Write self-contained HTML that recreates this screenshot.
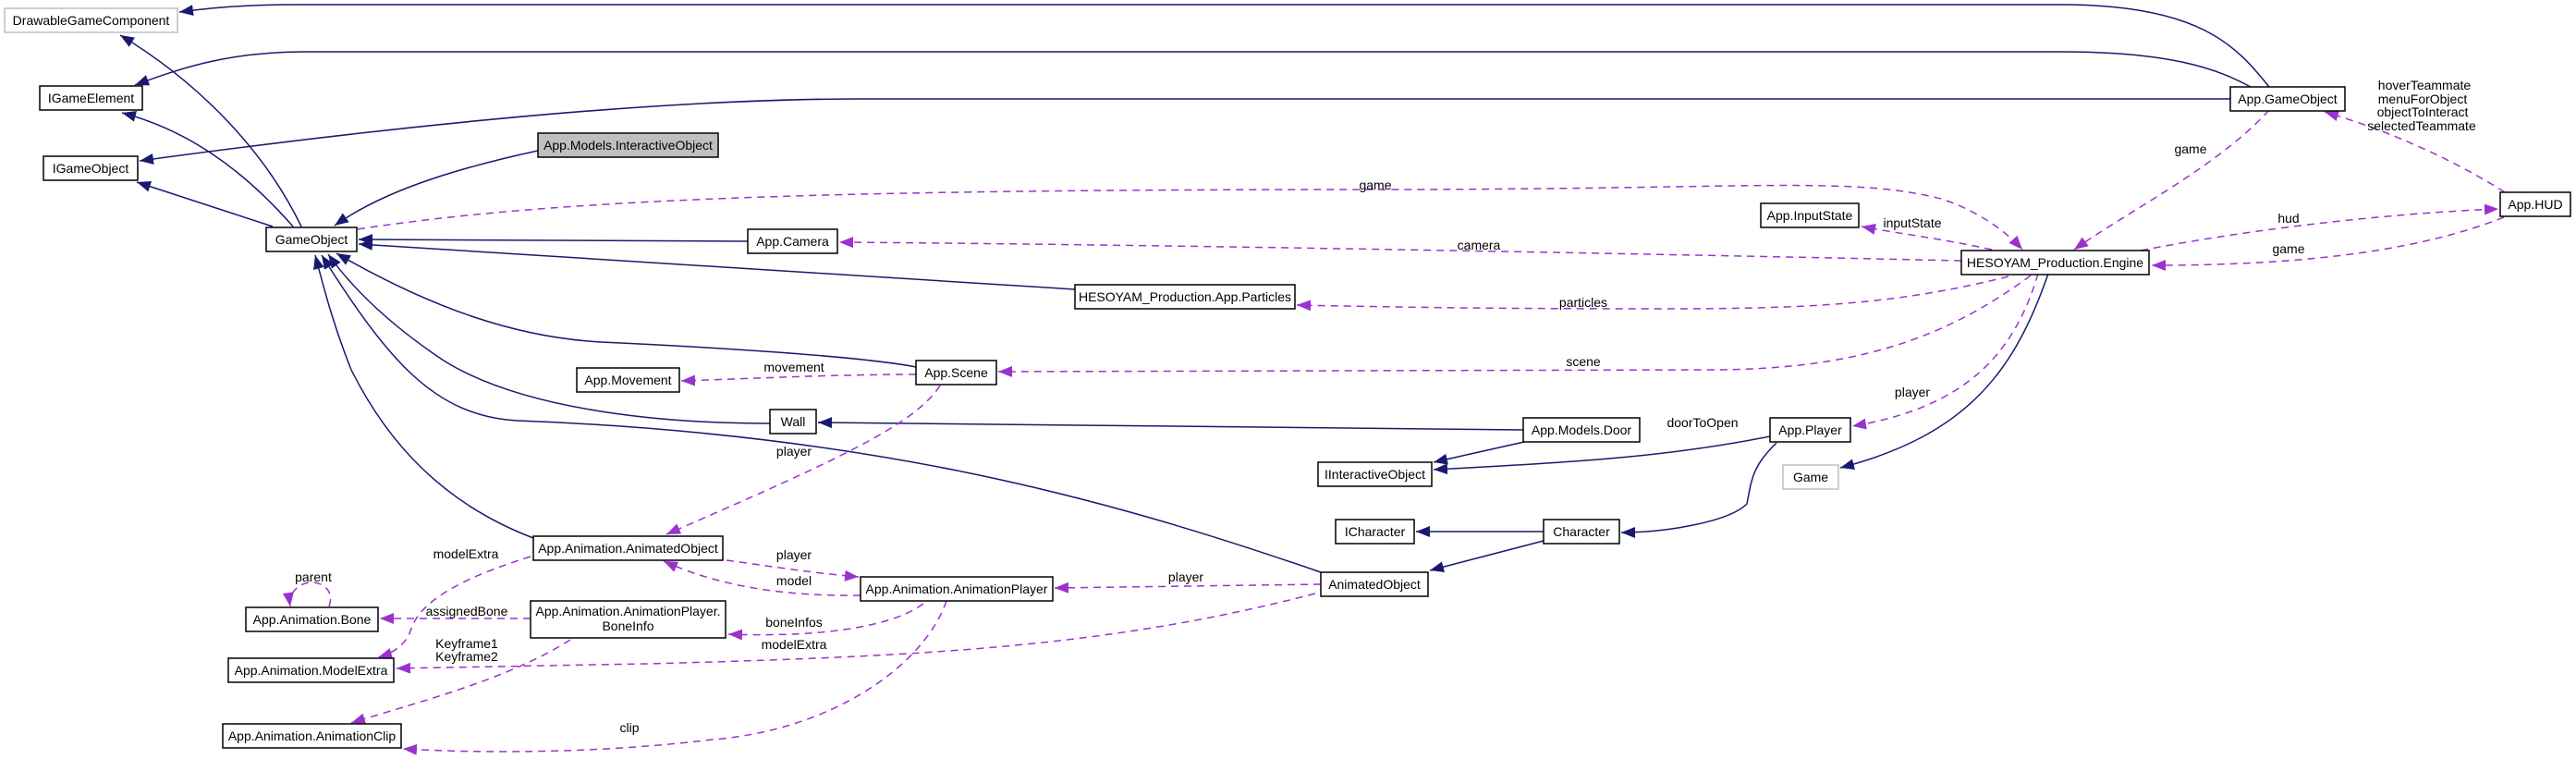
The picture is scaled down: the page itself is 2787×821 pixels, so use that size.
<!DOCTYPE html>
<html><head><meta charset="utf-8"><style>
html,body{margin:0;padding:0;background:#fff;}
svg{display:block;}
text{font-family:"Liberation Sans",Arial,sans-serif;font-size:14px;fill:#000;}
.b{fill:#fff;stroke:#000;stroke-width:1.5;}
.g{fill:#fff;stroke:#bfbfbf;stroke-width:1.5;}
.s{fill:none;stroke:#191970;stroke-width:1.5;}
.d{fill:none;stroke:#9a32cd;stroke-width:1.5;stroke-dasharray:8,6;}
</style></head><body>
<svg width="2787" height="821" viewBox="0 0 2787 821" xmlns="http://www.w3.org/2000/svg">
<defs>
<marker id="ab" markerUnits="userSpaceOnUse" markerWidth="16" markerHeight="12" refX="15" refY="6" orient="auto"><path d="M0,0 L15,6 L0,12 z" fill="#191970"/></marker>
<marker id="ap" markerUnits="userSpaceOnUse" markerWidth="16" markerHeight="12" refX="15" refY="6" orient="auto"><path d="M0,0 L15,6 L0,12 z" fill="#9a32cd"/></marker>
</defs>

<!-- solid inheritance edges -->
<g class="s">
<path marker-end="url(#ab)" d="M2455,94 C2420,50 2380,5 2230,5 L320,5 C260,5 225,9 194,13"/>
<path marker-end="url(#ab)" d="M2435,94 C2400,75 2350,56 2230,56 L330,56 C250,56 200,72 146,92"/>
<path marker-end="url(#ab)" d="M2413,107 L930,107 C700,107 400,140 151,174"/>
<path marker-end="url(#ab)" d="M326,245 C280,150 200,80 130,38"/>
<path marker-end="url(#ab)" d="M317,245 C260,180 200,140 132,122"/>
<path marker-end="url(#ab)" d="M295,245 L148,197"/>
<path marker-end="url(#ab)" d="M582,163 C480,185 410,210 362,244"/>
<path marker-end="url(#ab)" d="M809,261 L388,259"/>
<path marker-end="url(#ab)" d="M1163,313 L388,264"/>
<path marker-end="url(#ab)" d="M991,397 C930,385 760,375 650,370 C560,365 470,335 364,274"/>
<path marker-end="url(#ab)" d="M833,458 C700,458 560,440 480,390 C420,350 380,310 355,275"/>
<path marker-end="url(#ab)" d="M1429,619 C1200,540 950,470 560,455 C470,450 420,390 348,276"/>
<path marker-end="url(#ab)" d="M577,582 C480,545 420,480 380,400 C360,350 350,310 341,276"/>
<path marker-end="url(#ab)" d="M1648,465 L885,457"/>
<path marker-end="url(#ab)" d="M1649,478 L1551,500"/>
<path marker-end="url(#ab)" d="M1915,472 C1800,495 1700,500 1551,508"/>
<path marker-end="url(#ab)" d="M1922,479 C1895,505 1895,520 1890,545 C1870,565 1800,576 1754,576"/>
<path marker-end="url(#ab)" d="M1670,575 L1532,575"/>
<path marker-end="url(#ab)" d="M1670,585 L1547,617"/>
<path marker-end="url(#ab)" d="M2216,296 C2180,400 2130,470 1991,506"/>
</g>

<!-- dashed association edges -->
<g class="d">
<path marker-end="url(#ap)" d="M387,248 C600,215 900,205 1488,205 C1900,205 2000,190 2100,215 C2140,228 2170,250 2188,270"/>
<path marker-end="url(#ap)" d="M2122,282 C1800,275 1300,265 908,262"/>
<path marker-end="url(#ap)" d="M2173,299 C2050,330 1950,334 1800,334 C1600,334 1500,332 1403,330"/>
<path marker-end="url(#ap)" d="M2197,298 C2100,370 2000,400 1850,400 L1080,402"/>
<path marker-end="url(#ap)" d="M2155,270 C2100,258 2050,252 2014,245"/>
<path marker-end="url(#ap)" d="M2205,296 C2180,380 2130,440 2004,461"/>
<path marker-end="url(#ap)" d="M2316,271 C2450,245 2600,230 2703,226"/>
<path marker-end="url(#ap)" d="M2709,235 C2620,270 2500,287 2328,287"/>
<path marker-end="url(#ap)" d="M2710,208 C2650,170 2580,140 2515,121"/>
<path marker-end="url(#ap)" d="M2455,119 C2400,180 2300,230 2244,270"/>
<path marker-end="url(#ap)" d="M991,405 C900,405 800,410 737,412"/>
<path marker-end="url(#ap)" d="M1017,417 C990,460 900,500 721,578"/>
<path marker-end="url(#ap)" d="M786,606 C830,612 880,620 929,624"/>
<path marker-end="url(#ap)" d="M931,644 C850,645 780,635 718,607"/>
<path marker-end="url(#ap)" d="M1429,632 L1141,636"/>
<path marker-end="url(#ap)" d="M574,602 C500,625 455,650 445,680 C440,695 430,705 409,711"/>
<path marker-end="url(#ap)" d="M356,656 C362,640 350,630 338,630 C322,630 312,642 314,656"/>
<path marker-end="url(#ap)" d="M574,669 L411,669"/>
<path marker-end="url(#ap)" d="M999,653 C970,675 900,690 788,686"/>
<path marker-end="url(#ap)" d="M1423,642 C1200,700 1000,710 700,718 L429,723"/>
<path marker-end="url(#ap)" d="M617,692 C550,735 450,760 380,782"/>
<path marker-end="url(#ap)" d="M1024,650 C1000,720 900,790 770,800 C650,815 520,815 436,810"/>
</g>

<!-- nodes -->
<rect class="g" x="5" y="9" width="187" height="26"/><text x="98.5" y="27" text-anchor="middle">DrawableGameComponent</text>
<rect class="b" x="43" y="93" width="111" height="26"/><text x="98.5" y="111" text-anchor="middle">IGameElement</text>
<rect class="b" x="47" y="169" width="102" height="26"/><text x="98" y="187" text-anchor="middle">IGameObject</text>
<rect x="582" y="144" width="195" height="26" fill="#bfbfbf" stroke="#000" stroke-width="1.5"/><text x="679.5" y="162" text-anchor="middle">App.Models.InteractiveObject</text>
<rect class="b" x="288" y="246" width="98" height="26"/><text x="337" y="264" text-anchor="middle">GameObject</text>
<rect class="b" x="809" y="248" width="97" height="26"/><text x="857.5" y="266" text-anchor="middle">App.Camera</text>
<rect class="b" x="1163" y="308" width="238" height="26"/><text x="1282" y="326" text-anchor="middle">HESOYAM_Production.App.Particles</text>
<rect class="b" x="624" y="398" width="111" height="26"/><text x="679.5" y="416" text-anchor="middle">App.Movement</text>
<rect class="b" x="991" y="390" width="87" height="26"/><text x="1034.5" y="408" text-anchor="middle">App.Scene</text>
<rect class="b" x="833" y="443" width="50" height="26"/><text x="858" y="461" text-anchor="middle">Wall</text>
<rect class="b" x="1648" y="452" width="126" height="26"/><text x="1711" y="470" text-anchor="middle">App.Models.Door</text>
<rect class="b" x="1426" y="500" width="123" height="26"/><text x="1487.5" y="518" text-anchor="middle">IInteractiveObject</text>
<rect class="b" x="1445" y="562" width="85" height="26"/><text x="1487.5" y="580" text-anchor="middle">ICharacter</text>
<rect class="b" x="1670" y="562" width="82" height="26"/><text x="1711" y="580" text-anchor="middle">Character</text>
<rect class="b" x="1429" y="619" width="116" height="26"/><text x="1487" y="637" text-anchor="middle">AnimatedObject</text>
<rect class="b" x="931" y="624" width="208" height="26"/><text x="1035" y="642" text-anchor="middle">App.Animation.AnimationPlayer</text>
<rect class="b" x="577" y="580" width="205" height="26"/><text x="679.5" y="598" text-anchor="middle">App.Animation.AnimatedObject</text>
<rect class="b" x="266" y="657" width="143" height="26"/><text x="337.5" y="675" text-anchor="middle">App.Animation.Bone</text>
<rect class="b" x="574" y="650" width="211" height="40"/><text x="679.5" y="666" text-anchor="middle">App.Animation.AnimationPlayer.</text><text x="679.5" y="682" text-anchor="middle">BoneInfo</text>
<rect class="b" x="247" y="712" width="179" height="26"/><text x="336.5" y="730" text-anchor="middle">App.Animation.ModelExtra</text>
<rect class="b" x="241" y="783" width="193" height="26"/><text x="337.5" y="801" text-anchor="middle">App.Animation.AnimationClip</text>
<rect class="b" x="2413" y="94" width="124" height="26"/><text x="2475" y="112" text-anchor="middle">App.GameObject</text>
<rect class="b" x="1905" y="220" width="106" height="26"/><text x="1958" y="238" text-anchor="middle">App.InputState</text>
<rect class="b" x="2122" y="271" width="203" height="26"/><text x="2223.5" y="289" text-anchor="middle">HESOYAM_Production.Engine</text>
<rect class="b" x="2705" y="208" width="76" height="26"/><text x="2743" y="226" text-anchor="middle">App.HUD</text>
<rect class="b" x="1915" y="452" width="87" height="26"/><text x="1958.5" y="470" text-anchor="middle">App.Player</text>
<rect class="g" x="1929" y="503" width="60" height="26"/><text x="1959" y="521" text-anchor="middle">Game</text>

<!-- edge labels -->
<g text-anchor="middle">
<text x="2623" y="97">hoverTeammate</text>
<text x="2621" y="112">menuForObject</text>
<text x="2621" y="126">objectToInteract</text>
<text x="2620" y="141">selectedTeammate</text>
<text x="2370" y="166">game</text>
<text x="2069" y="246">inputState</text>
<text x="2476" y="241">hud</text>
<text x="2476" y="274">game</text>
<text x="2069" y="429">player</text>
<text x="1488" y="205">game</text>
<text x="1600" y="270">camera</text>
<text x="1713" y="332">particles</text>
<text x="1713" y="396">scene</text>
<text x="1842" y="462">doorToOpen</text>
<text x="1283" y="629">player</text>
<text x="859" y="402">movement</text>
<text x="859" y="493">player</text>
<text x="859" y="605">player</text>
<text x="859" y="633">model</text>
<text x="859" y="678">boneInfos</text>
<text x="859" y="702">modelExtra</text>
<text x="504" y="604">modelExtra</text>
<text x="339" y="629">parent</text>
<text x="505" y="666">assignedBone</text>
<text x="505" y="701">Keyframe1</text>
<text x="505" y="715">Keyframe2</text>
<text x="681" y="792">clip</text>
</g>
</svg>
</body></html>
